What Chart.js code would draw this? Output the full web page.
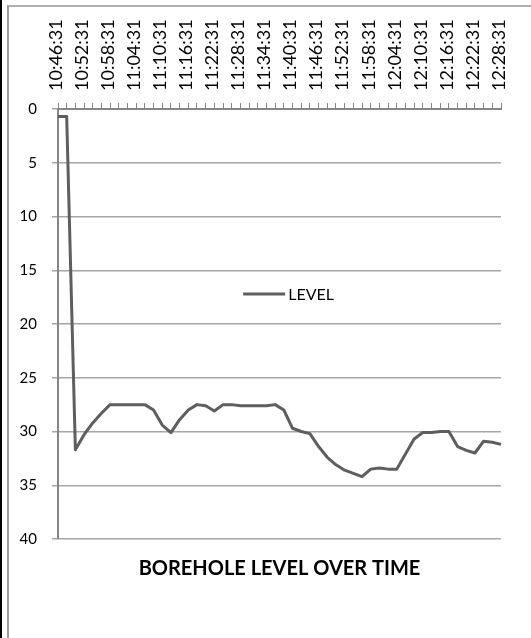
<!DOCTYPE html>
<html>
<head>
<meta charset="utf-8">
<script src="https://cdn.jsdelivr.net/npm/chart.js@4.4.1/dist/chart.umd.min.js"></script>
<style>
  html, body { margin: 0; padding: 0; background: #fff; overflow: hidden; width: 531px; height: 638px; }
  #strip { position: absolute; left: 0; top: 0; width: 2px; height: 638px; background: #000; }
  #frame { position: absolute; left: 7px; top: 5px; width: 600px; height: 700px;
           border-left: 2px solid #9a9a9a; border-top: 2px solid #b0b0b0; }
  #c { position: absolute; left: 0; top: 0; }
</style>
</head>
<body>
<div id="strip"></div>
<div id="frame"></div>
<canvas id="c" width="531" height="638"></canvas>
<script>
const timeLabels = [
  "10:46:31","10:48:31","10:50:31","10:52:31","10:54:31","10:56:31","10:58:31","11:00:31",
  "11:02:31","11:04:31","11:06:31","11:08:31","11:10:31","11:12:31","11:14:31","11:16:31",
  "11:18:31","11:20:31","11:22:31","11:24:31","11:26:31","11:28:31","11:30:31","11:32:31",
  "11:34:31","11:36:31","11:38:31","11:40:31","11:42:31","11:44:31","11:46:31","11:48:31",
  "11:50:31","11:52:31","11:54:31","11:56:31","11:58:31","12:00:31","12:02:31","12:04:31",
  "12:06:31","12:08:31","12:10:31","12:12:31","12:14:31","12:16:31","12:18:31","12:20:31",
  "12:22:31","12:24:31","12:26:31","12:28:31"
];
const levelValues = [
  0.7, 0.7, 31.7, 30.3, 29.2, 28.3, 27.5, 27.5, 27.5, 27.5,
  27.5, 28.0, 29.4, 30.1, 28.9, 28.0, 27.5, 27.6, 28.1, 27.5,
  27.5, 27.6, 27.6, 27.6, 27.6, 27.5, 28.0, 29.7, 30.0, 30.2,
  31.4, 32.4, 33.1, 33.6, 33.9, 34.2, 33.5, 33.4, 33.5, 33.5,
  32.1, 30.7, 30.1, 30.1, 30.0, 30.0, 31.4, 31.75, 32.0, 30.9,
  31.0, 31.2
];
const seriesName = "LEVEL";
const chartTitle = "BOREHOLE LEVEL OVER TIME";
const yMin = 0, yMax = 40, yStep = 5;
const labelEvery = 3;

const FONT = "Lato, 'Open Sans', sans-serif";
const X_FONT_SIZE = 18, Y_FONT_SIZE = 15;
const X_PAD = 12, Y_PAD = 15, TICK_LEN = 6;
const AREA_LEFT = 58, AREA_TOP = 109, AREA_RIGHT_GAP = 30;

function build() {
  const innerLegend = {
    id: 'innerLegend',
    afterDraw(chart) {
      const ctx = chart.ctx;
      const a = chart.chartArea;
      const ds = chart.data.datasets[0];
      const x0 = a.left + (a.right - a.left) * 0.418;
      const x1 = x0 + 42;
      const y = a.top + (a.bottom - a.top) * 0.43;
      ctx.save();
      ctx.strokeStyle = ds.borderColor;
      ctx.lineWidth = 3;
      ctx.beginPath();
      ctx.moveTo(x0, y);
      ctx.lineTo(x1, y);
      ctx.stroke();
      ctx.fillStyle = '#000';
      ctx.font = "16px " + FONT;
      ctx.textBaseline = 'middle';
      ctx.textAlign = 'left';
      ctx.fillText(ds.label, x1 + 3, y + 1);
      ctx.restore();
    }
  };

  new Chart(document.getElementById('c'), {
    type: 'line',
    data: {
      labels: timeLabels,
      datasets: [{
        label: seriesName,
        data: levelValues,
        borderColor: '#5e5e5e',
        borderWidth: 3,
        pointRadius: 0,
        borderJoinStyle: 'round',
        fill: false
      }]
    },
    options: {
      responsive: false,
      animation: false,
      devicePixelRatio: 1,
      layout: { padding: { left: 0, top: 0, right: AREA_RIGHT_GAP, bottom: 57 } },
      plugins: {
        legend: { display: false },
        tooltip: { enabled: false },
        title: {
          display: true,
          text: chartTitle,
          position: 'bottom',
          fullSize: false,
          color: '#000',
          font: { family: FONT, size: 20, weight: 'bold', lineHeight: 1.2 },
          padding: { top: 18, bottom: 0 }
        }
      },
      scales: {
        x: {
          position: 'top',
          offset: false,
          afterFit(scale) { scale.height = AREA_TOP; scale.paddingLeft = 0; scale.paddingRight = 0; },
          grid: { drawOnChartArea: false, drawTicks: true, tickLength: TICK_LEN, tickColor: '#868686', tickWidth: 1 },
          border: { display: true, color: '#868686', width: 2 },
          ticks: {
            autoSkip: false,
            maxRotation: 90,
            minRotation: 90,
            padding: X_PAD,
            labelOffset: X_FONT_SIZE * 1.2 - 2,
            color: '#000',
            font: { family: FONT, size: X_FONT_SIZE },
            callback(value, index) { return index % labelEvery === 0 ? this.getLabelForValue(value) : ''; }
          }
        },
        y: {
          reverse: true,
          min: yMin,
          max: yMax,
          afterFit(scale) { scale.width = AREA_LEFT; },
          grid: { color: '#a6a6a6', lineWidth: 1.5, drawTicks: true, tickLength: TICK_LEN, tickColor: '#a6a6a6' },
          border: { display: true, color: '#868686', width: 2 },
          ticks: {
            stepSize: yStep,
            padding: Y_PAD,
            color: '#000',
            font: { family: FONT, size: Y_FONT_SIZE }
          }
        }
      }
    },
    plugins: [innerLegend]
  });
}
if (document.fonts && document.fonts.load) {
  Promise.all([document.fonts.load("18px Lato"), document.fonts.load("bold 20px Lato")]).then(build, build);
} else { build(); }
</script>
</body>
</html>
